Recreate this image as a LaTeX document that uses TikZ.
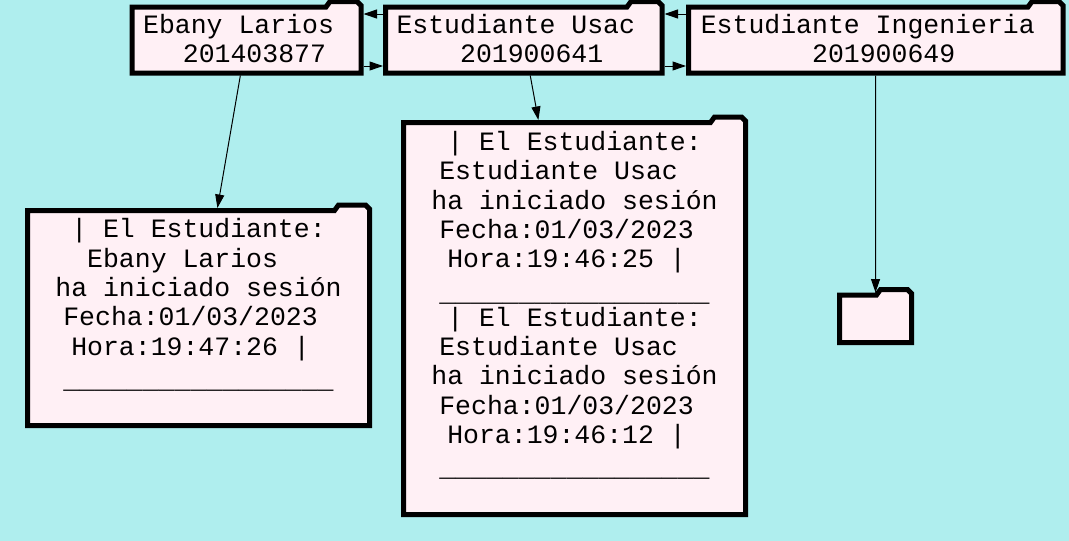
\documentclass[tikz,border=0pt]{standalone}
\usepackage{fontspec}
\newfontfamily\cour{Liberation Mono}
\usetikzlibrary{arrows.meta,backgrounds}
\definecolor{bgc}{RGB}{175,238,238}
\definecolor{fillc}{RGB}{255,240,245}
\tikzset{
  box/.style={inner sep=0pt, outer sep=2.5pt, align=center, text=black,
    font=\cour\fontsize{26.5}{29.3}\selectfont,
    execute at begin node={\lineskiplimit=-50pt}},
  topbox/.style={box, font=\cour\fontsize{26.5}{28.5}\selectfont},
  folderline/.style={draw=black, fill=fillc, line width=5pt, line join=miter},
  arr/.style={-{Triangle[length=13.5pt,width=9pt]}, line width=1pt, black},
}
\newcommand\folderbox[1]{%
  \filldraw[folderline]
    ([shift={(2.5pt,2.5pt)}]#1.south west) --
    ([shift={(2.5pt,-2.5pt)}]#1.north west) --
    ([shift={(-37.5pt,-2.5pt)}]#1.north east) --
    ([shift={(-33.5pt,3pt)}]#1.north east) --
    ([shift={(-6.5pt,3pt)}]#1.north east) --
    ([shift={(-2.5pt,-1pt)}]#1.north east) --
    ([shift={(-2.5pt,2.5pt)}]#1.south east) -- cycle;}
\newcommand\ul{\raisebox{-4pt}{\_\_\_\_\_\_\_\_\_\_\_\_\_\_\_\_\_}}
\newcommand\topstrut{\rule{0pt}{24.5pt}}
\begin{document}
\begin{tikzpicture}[x=1pt,y=-1pt]
\useasboundingbox (0,0) rectangle (1069,541);

\node[topbox, minimum width=229pt, minimum height=66pt] (t1) at (246.5,40)
  {\topstrut Ebany Larios\phantom{x}\\\strut\phantom{x}201403877};
\node[topbox, minimum width=276.5pt, minimum height=66pt] (t2) at (523.75,40)
  {\topstrut Estudiante Usac\phantom{x}\\\strut\phantom{x}201900641};
\node[topbox, minimum width=374.5pt, minimum height=66pt] (t3) at (875.75,40)
  {\topstrut Estudiante Ingenieria\phantom{x}\\\strut\phantom{x}201900649};

\node[box, minimum width=342pt, minimum height=215pt] (b1) at (198.5,318)
  {\topstrut| El Estudiante:\\
   Ebany Larios\phantom{xx}\\
   ha iniciado sesión\\
   Fecha:01/03/2023\phantom{x}\\
   Hora:19:47:26 |\phantom{x}\\
   \ul\\
   \strut};
\node[box, minimum width=342pt, minimum height=392pt] (b2) at (574.5,318.5)
  {\topstrut| El Estudiante:\\
   Estudiante Usac\phantom{xx}\\
   ha iniciado sesión\\
   Fecha:01/03/2023\phantom{x}\\
   Hora:19:46:25 |\phantom{x}\\
   \ul\\
   | El Estudiante:\\
   Estudiante Usac\phantom{xx}\\
   ha iniciado sesión\\
   Fecha:01/03/2023\phantom{x}\\
   Hora:19:46:12 |\phantom{x}\\
   \ul\\
   \strut};
\node[box, minimum width=72pt, minimum height=47.5pt] (s) at (875.5,318.75) {};

\begin{scope}[on background layer]
  \fill[bgc] (0,0) rectangle (1069,541);
  \folderbox{t1}
  \folderbox{t2}
  \folderbox{t3}
  \folderbox{b1}
  \folderbox{b2}
  \folderbox{s}
\end{scope}

\draw[arr] ([yshift=-9.5pt]t2.north west) -- ([yshift=-9.5pt]t1.north east);
\draw[arr] ([yshift=9.5pt]t1.south east) -- ([yshift=9.5pt]t2.south west);
\draw[arr] ([yshift=-9.5pt]t3.north west) -- ([yshift=-9.5pt]t2.north east);
\draw[arr] ([yshift=9.5pt]t2.south east) -- ([yshift=9.5pt]t3.south west);
\draw[arr] (t1) -- (b1);
\draw[arr] (t2) -- (b2);
\draw[arr] (t3) -- (s);
\end{tikzpicture}
\end{document}
